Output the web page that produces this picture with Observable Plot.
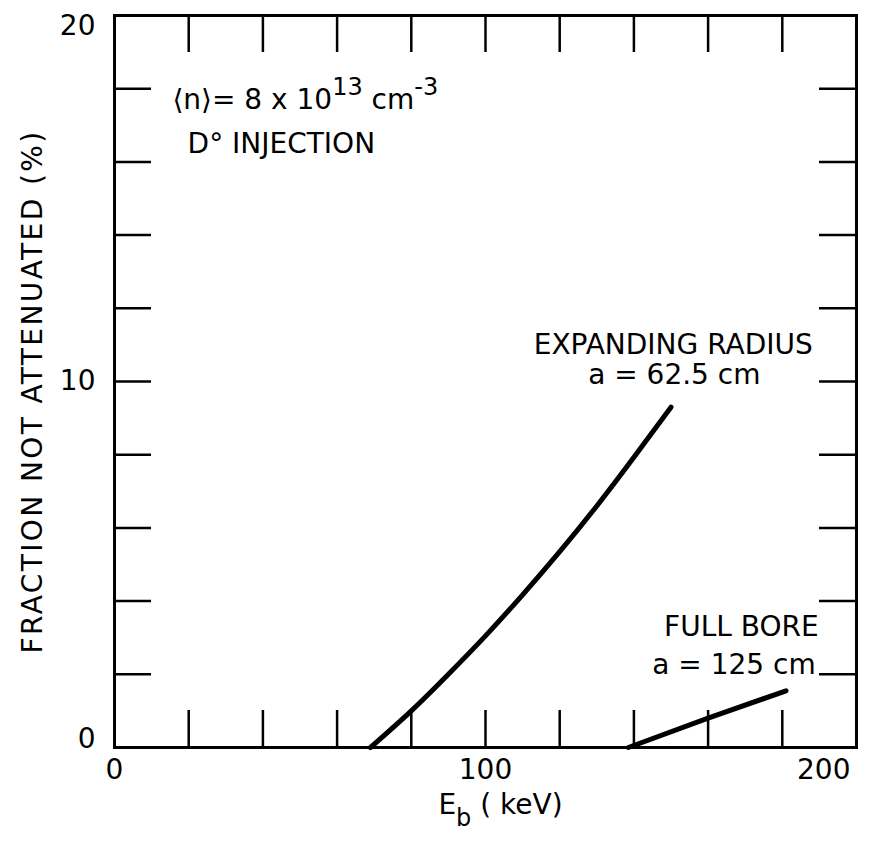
<!DOCTYPE html>
<html><head><meta charset="utf-8">
<script src="https://cdn.jsdelivr.net/npm/d3@7"></script>
<script src="https://cdn.jsdelivr.net/npm/@observablehq/plot@0.6"></script>
<style>body{margin:0;background:#fff}</style>
</head><body><div id="chart"></div>
<script>
// Tick positions and labels
const xMinorTicks = [20, 40, 60, 80, 100, 120, 140, 160, 180];
const yMinorTicks = [2, 4, 6, 8, 10, 12, 14, 16, 18];
const xTickLabels = [0, 100];
const xLastTickLabel = [200];
const yBottomLabel = [0];
const yMiddleLabel = [10];
const yTopLabel = [20];

// Expanding radius, a = 62.5 cm
const expandingEnergy = [69, 80, 90, 100, 110, 120, 130, 140, 150];
const expandingFraction = [0, 1.0, 2.0, 3.05, 4.17, 5.35, 6.6, 7.93, 9.3];

// Full bore, a = 125 cm
const fullBoreEnergy = [138.5, 160, 181];
const fullBoreFraction = [0, 0.8, 1.55];

// Annotation texts and anchors (data units)
const startNotes = [
  {text: "⟨n⟩= 8 x 10^13 cm^-3", x: 15.6, y: 17.7},
  {text: "D° INJECTION", x: 19.7, y: 16.5}
];
const middleNotes = [
  {text: "EXPANDING RADIUS", x: 150.6, y: 11.0},
  {text: "a = 62.5 cm", x: 150.9, y: 10.17}
];
const endNotes = [
  {text: "FULL BORE", x: 189.8, y: 3.3},
  {text: "a = 125 cm", x: 189.0, y: 2.24}
];

const W = 872, H = 846, ML = 114, MR = 16, MT = 15, MB = 99;
const innerW = W - ML - MR, innerH = H - MT - MB;
const TICK = 37;

const expanding = expandingEnergy.map((e, i) => ({e, f: expandingFraction[i]}));
const fullBore = fullBoreEnergy.map((e, i) => ({e, f: fullBoreFraction[i]}));

const yLabelOpts = (lineAnchor) => ({y: d => d, text: d => String(d), frameAnchor: "left", textAnchor: "end", dx: -19, lineAnchor, fontSize: 28, fill: "black"});

const chart = Plot.plot({
  width: W, height: H,
  marginLeft: ML, marginRight: MR, marginTop: MT, marginBottom: MB,
  style: {fontFamily: "DejaVu Sans", fontSize: "28px", background: "white", color: "black"},
  x: {domain: [0, 200], axis: null},
  y: {domain: [0, 20], axis: null},
  marks: [
    Plot.tickX(xMinorTicks, {x: d => d, insetTop: innerH - TICK, stroke: "black", strokeWidth: 2.5}),
    Plot.tickX(xMinorTicks, {x: d => d, insetBottom: innerH - TICK, stroke: "black", strokeWidth: 2.5}),
    Plot.tickY(yMinorTicks, {y: d => d, insetRight: innerW - TICK, stroke: "black", strokeWidth: 2.5}),
    Plot.tickY(yMinorTicks, {y: d => d, insetLeft: innerW - TICK, stroke: "black", strokeWidth: 2.5}),
    Plot.frame({stroke: "black", strokeWidth: 3}),
    Plot.line(expanding, {x: "e", y: "f", curve: "natural", stroke: "black", strokeWidth: 5, strokeLinecap: "round"}),
    Plot.line(fullBore, {x: "e", y: "f", curve: "linear", stroke: "black", strokeWidth: 5, strokeLinecap: "round"}),
    Plot.text(yBottomLabel, yLabelOpts("bottom")),
    Plot.text(yMiddleLabel, yLabelOpts("middle")),
    Plot.text(yTopLabel, yLabelOpts("top")),
    Plot.text(xTickLabels, {x: d => d, text: d => String(d), frameAnchor: "bottom", dy: 31, fontSize: 28, fill: "black"}),
    Plot.text(xLastTickLabel, {x: d => d, text: d => String(d), frameAnchor: "bottom", dy: 31, dx: -6, textAnchor: "end", fontSize: 28, fill: "black"}),
    Plot.text(startNotes, {x: "x", y: "y", text: "text", textAnchor: "start", fontSize: 28, fill: "black"}),
    Plot.text(middleNotes, {x: "x", y: "y", text: "text", textAnchor: "middle", fontSize: 28, fill: "black"}),
    Plot.text(endNotes, {x: "x", y: "y", text: "text", textAnchor: "end", fontSize: 28, fill: "black"}),
    Plot.text(["E_b ( keV)"], {frameAnchor: "bottom", dy: 66, dx: 15, fontSize: 28, fill: "black"}),
    Plot.text(["FRACTION NOT ATTENUATED (%)"], {frameAnchor: "left", textAnchor: "middle", rotate: -90, dx: -81, dy: 10, fontSize: 28, fill: "black"})
  ]
});

// Render superscripts (^) and subscripts (_) as real tspans
d3.select(chart).selectAll("text").each(function() {
  const t = this.textContent;
  if (!/[\^_]/.test(t) || this.querySelector("tspan")) return;
  const sel = d3.select(this);
  sel.text(null);
  const parts = t.split(/([\^_][^\s]+)/).filter(p => p.length);
  let shift = 0;
  for (const p of parts) {
    if (p[0] === "^" || p[0] === "_") {
      const target = p[0] === "^" ? -14 : 12;
      sel.append("tspan").attr("dy", target - shift).attr("font-size", 24).text(p.slice(1));
      shift = target;
    } else {
      sel.append("tspan").attr("dy", -shift).text(p);
      shift = 0;
    }
  }
});
d3.select(chart).selectAll("text").filter(function(){ return this.textContent.startsWith("FRACTION"); })
  .attr("letter-spacing", 2.4);

document.getElementById("chart").appendChild(chart);
</script>
</body></html>
